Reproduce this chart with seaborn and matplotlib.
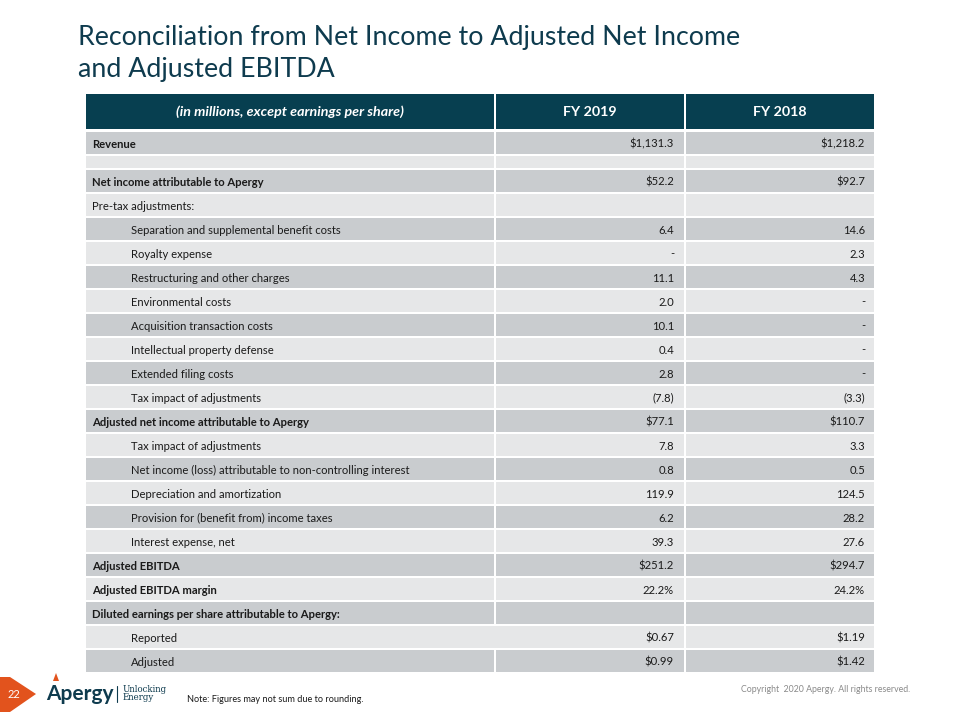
import matplotlib
matplotlib.use("Agg")
import matplotlib.pyplot as plt
import matplotlib.patches as mpatches
import seaborn as sns

# table content
labels = [
    "Revenue", "", "Net income attributable to Apergy", "Pre-tax adjustments:",
    "Separation and supplemental benefit costs", "Royalty expense",
    "Restructuring and other charges", "Environmental costs",
    "Acquisition transaction costs", "Intellectual property defense",
    "Extended filing costs", "Tax impact of adjustments",
    "Adjusted net income attributable to Apergy", "Tax impact of adjustments",
    "Net income (loss) attributable to non-controlling interest",
    "Depreciation and amortization", "Provision for (benefit from) income taxes",
    "Interest expense, net", "Adjusted EBITDA", "Adjusted EBITDA margin",
    "Diluted earnings per share attributable to Apergy:", "Reported", "Adjusted",
]
fy2019 = ["$1,131.3", "", "$52.2", "", "6.4", "-", "11.1", "2.0", "10.1", "0.4",
          "2.8", "(7.8)", "$77.1", "7.8", "0.8", "119.9", "6.2", "39.3",
          "$251.2", "22.2%", "", "$0.67", "$0.99"]
fy2018 = ["$1,218.2", "", "$92.7", "", "14.6", "2.3", "4.3", "-", "-", "-",
          "-", "(3.3)", "$110.7", "3.3", "0.5", "124.5", "28.2", "27.6",
          "$294.7", "24.2%", "", "$1.19", "$1.42"]
bold_rows = ["Revenue", "Net income attributable to Apergy",
             "Adjusted net income attributable to Apergy", "Adjusted EBITDA",
             "Adjusted EBITDA margin",
             "Diluted earnings per share attributable to Apergy:"]
top_level = bold_rows + ["Pre-tax adjustments:", ""]
headers = ["(in millions, except earnings per share)", "FY 2019", "FY 2018"]

# layout (pixels)
row_pitch = [24, 14] + [24] * (len(labels) - 2)
col_edges = [(86, 494), (496, 684), (686, 874)]
table_top = 132

NAVY = "#073F50"
DARK = "#C9CCCF"
LIGHT = "#E6E7E8"
TEXT = "#1a1a1a"

sns.set_theme(style="white")
plt.rcParams["font.family"] = ["Lato", "DejaVu Sans"]

fig = plt.figure(figsize=(9.6, 7.2), dpi=100)
ax = fig.add_axes([0, 0, 1, 1])
ax.set_xlim(0, 960)
ax.set_ylim(720, 0)
ax.axis("off")

# title
ax.text(78, 38, "Reconciliation from Net Income to Adjusted Net Income",
        fontsize=19.3, color="#0E3B4E", va="center", ha="left")
ax.text(78, 70, "and Adjusted EBITDA",
        fontsize=19.3, color="#0E3B4E", va="center", ha="left")

# header row
for j, (x0, x1) in enumerate(col_edges):
    ax.barh(111, x1 - x0, left=x0, height=35, color=NAVY, edgecolor="none")
    ax.text((x0 + x1) / 2, 111, headers[j], color="white", fontsize=10.3,
            fontweight="bold", fontstyle="italic" if j == 0 else "normal",
            ha="center", va="center_baseline")

# body rows
y = table_top
for i, lab in enumerate(labels):
    h = row_pitch[i]
    yc = y + (h - 2) / 2
    col = DARK if i % 2 == 0 else LIGHT
    if lab == "Reported":
        ax.barh(yc, col_edges[1][1] - col_edges[0][0], left=col_edges[0][0],
                height=h - 2, color=col, edgecolor="none")
        ax.barh(yc, col_edges[2][1] - col_edges[2][0], left=col_edges[2][0],
                height=h - 2, color=col, edgecolor="none")
    else:
        for x0, x1 in col_edges:
            ax.barh(yc, x1 - x0, left=x0, height=h - 2, color=col, edgecolor="none")
    if lab:
        indent = 92 if lab in top_level else 131
        ax.text(indent, yc, lab, fontsize=8.1, color=TEXT, va="center_baseline",
                ha="left", fontweight="bold" if lab in bold_rows else "normal")
    ax.text(col_edges[1][1] - 10, yc, fy2019[i], fontsize=8.1, color=TEXT,
            va="center_baseline", ha="right")
    ax.text(col_edges[2][1] - 9, yc, fy2018[i], fontsize=8.1, color=TEXT,
            va="center_baseline", ha="right")
    y += h

# footer
ax.add_patch(mpatches.Polygon([(0, 677), (10, 677), (36, 694), (10, 712), (0, 712)],
                              closed=True, color="#E2531D", lw=0))
ax.text(14, 694, "22", color="white", fontsize=8, va="center", ha="center")
ax.text(46, 694, "Apergy", color="#0E3B4E", fontsize=15, fontweight="bold",
        va="center", ha="left")
ax.add_patch(mpatches.Polygon([(53, 681), (56, 673), (59, 681)], closed=True,
                              color="#E2531D", lw=0))
ax.plot([117, 117], [686, 702], color="#0E3B4E", lw=0.8)
ax.text(123, 689, "Unlocking", color="#0E3B4E", fontsize=6.2, va="center",
        ha="left", family=["DejaVu Serif"])
ax.text(123, 698, "Energy", color="#0E3B4E", fontsize=6.2, va="center",
        ha="left", family=["DejaVu Serif"])
ax.text(187, 700, "Note: Figures may not sum due to rounding.", fontsize=6.6,
        color=TEXT, va="center", ha="left")
ax.text(910, 690, "Copyright  2020 Apergy. All rights reserved.", fontsize=6.3,
        color="#8a8a8a", va="center", ha="right")

fig.savefig("out.png", dpi=100)
